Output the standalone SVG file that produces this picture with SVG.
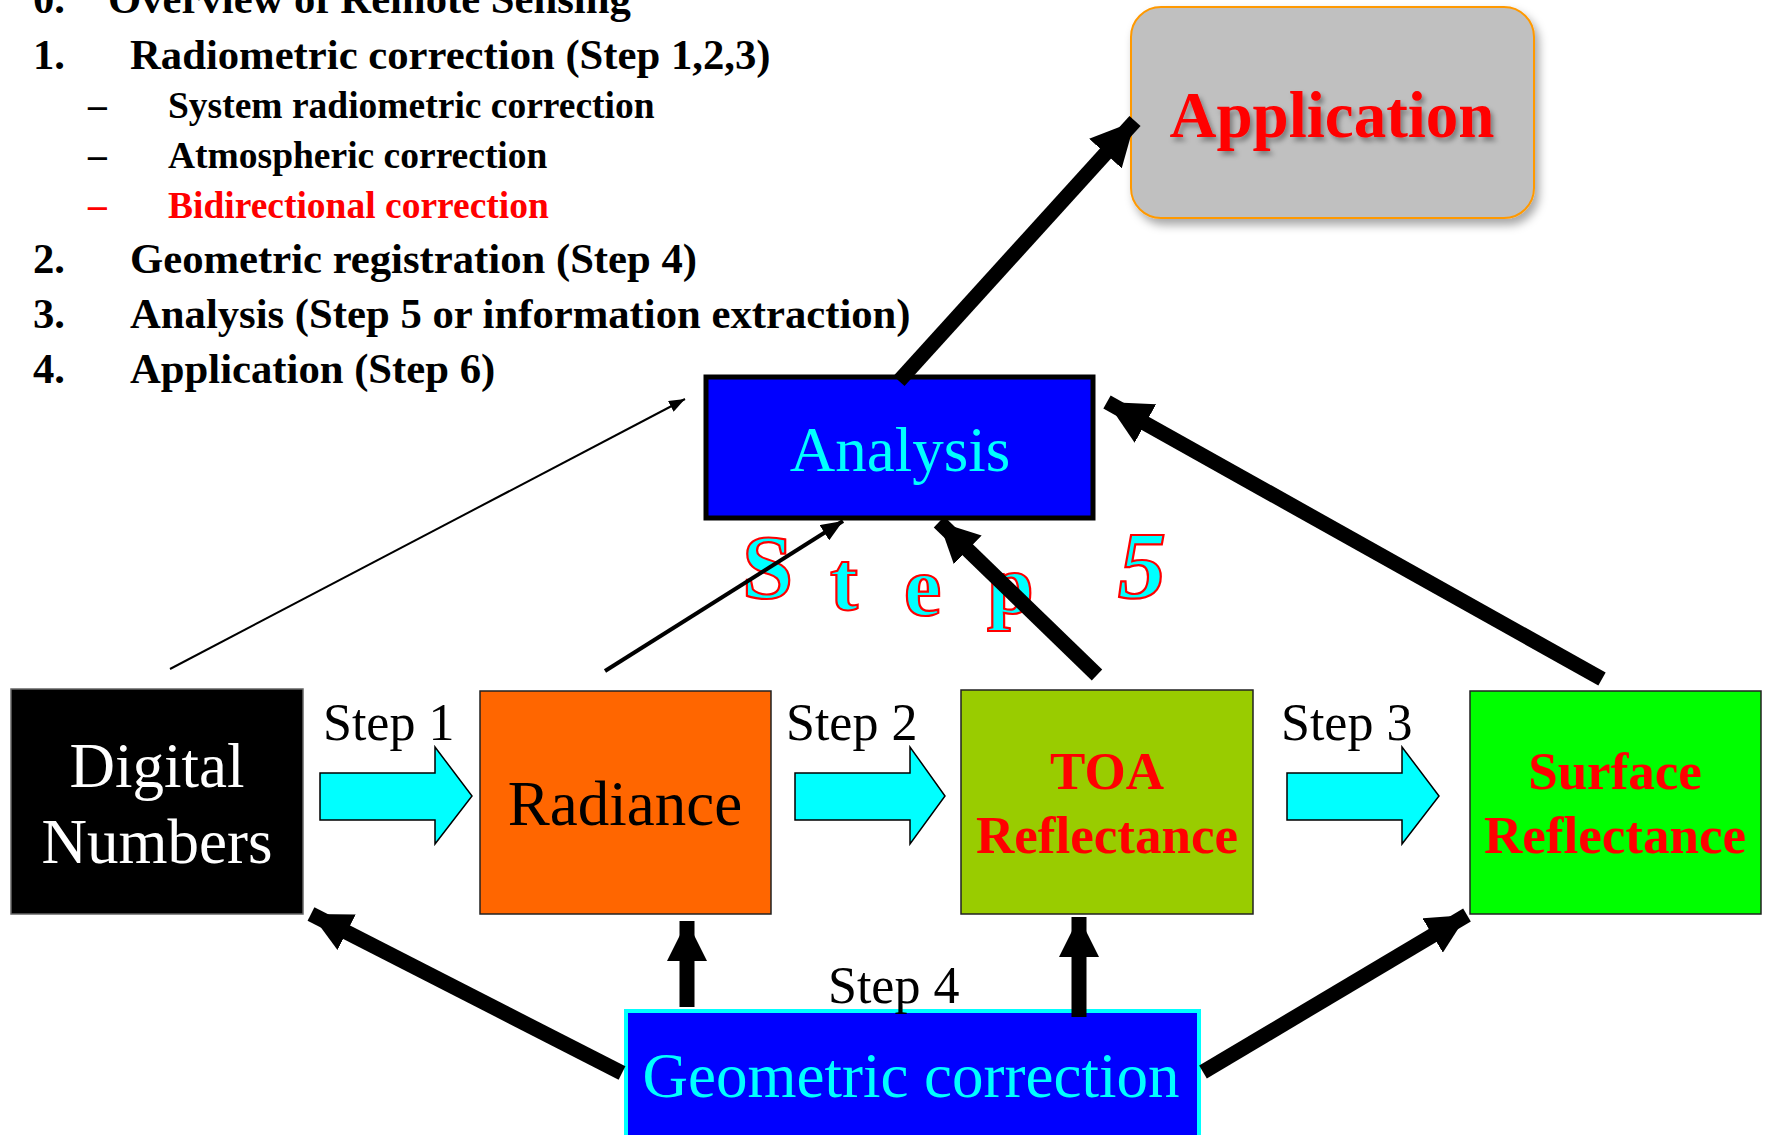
<svg xmlns="http://www.w3.org/2000/svg" width="1769" height="1135" viewBox="0 0 1769 1135">
  <style>
    .serif { font-family: "Liberation Serif", "Times New Roman", serif; }
    .list { font-family: "Liberation Serif", serif; font-weight: bold; font-size: 42.7px; fill: #000; }
    .sub { font-family: "Liberation Serif", serif; font-weight: bold; font-size: 37.5px; fill: #000; }
    .red { fill: #ff0000; }
    .step { font-family: "Liberation Serif", serif; font-size: 52px; fill: #000; }
    .big { font-family: "Liberation Serif", serif; font-size: 63px; }
    .bold-red { font-family: "Liberation Serif", serif; font-size: 53px; font-weight: bold; fill: #ff0000; }
    .s5 { font-family: "Liberation Serif", serif; font-weight: bold; font-size: 84px; fill: #00ffff; stroke: #ff0000; stroke-width: 2.2; }
    .blockarrow { fill: #00ffff; stroke: #000; stroke-width: 1.5; }
    .thick { stroke: #000; stroke-width: 15; fill: none; }
  </style>
  <defs>
    <filter id="boxShadow" x="-10%" y="-10%" width="125%" height="130%">
      <feDropShadow dx="4" dy="6" stdDeviation="5" flood-color="#000" flood-opacity="0.35"/>
    </filter>
    <filter id="textShadow" x="-5%" y="-20%" width="115%" height="150%">
      <feDropShadow dx="3" dy="4" stdDeviation="2.5" flood-color="#000" flood-opacity="0.35"/>
    </filter>
    <marker id="headBig" markerUnits="userSpaceOnUse" viewBox="0 0 44 44" refX="44" refY="22" markerWidth="44" markerHeight="44" orient="auto">
      <path d="M0,0 L44,22 L0,44 Z" fill="#000"/>
    </marker>
    <marker id="headMid" markerUnits="userSpaceOnUse" viewBox="0 0 40 40" refX="40" refY="20" markerWidth="40" markerHeight="40" orient="auto">
      <path d="M0,0 L40,20 L0,40 Z" fill="#000"/>
    </marker>
    <marker id="headSmall" markerUnits="userSpaceOnUse" viewBox="0 0 22 18" refX="22" refY="9" markerWidth="22" markerHeight="18" orient="auto">
      <path d="M0,0 L22,9 L0,18 Z" fill="#000"/>
    </marker>
    <marker id="headThin" markerUnits="userSpaceOnUse" viewBox="0 0 16 12" refX="16" refY="6" markerWidth="16" markerHeight="12" orient="auto">
      <path d="M0,0 L16,6 L0,12 Z" fill="#000"/>
    </marker>
  </defs>

  <rect width="1769" height="1135" fill="#fff"/>

  <!-- outline list -->
  <g id="outline">
    <text class="list" x="33" y="13">0.</text>
    <text class="list" x="108" y="13">Overview of Remote Sensing</text>
    <text class="list" x="33" y="69">1.</text>
    <text class="list" x="130" y="69">Radiometric correction (Step 1,2,3)</text>
    <text class="sub" x="88" y="118">–</text>
    <text class="sub" x="168" y="118">System radiometric correction</text>
    <text class="sub" x="88" y="168">–</text>
    <text class="sub" x="168" y="168">Atmospheric correction</text>
    <text class="sub red" x="88" y="218">–</text>
    <text class="sub red" x="168" y="218">Bidirectional correction</text>
    <text class="list" x="33" y="273">2.</text>
    <text class="list" x="130" y="273">Geometric registration (Step 4)</text>
    <text class="list" x="33" y="328">3.</text>
    <text class="list" x="130" y="328">Analysis (Step 5 or information extraction)</text>
    <text class="list" x="33" y="383">4.</text>
    <text class="list" x="130" y="383">Application (Step 6)</text>
  </g>

  <!-- Step 5 word art -->
  <g id="step5-label">
    <text class="s5" x="742" y="598" style="font-size:92px">S</text>
    <text class="s5" x="830" y="610">t</text>
    <text class="s5" x="904" y="615">e</text>
    <text class="s5" x="987" y="613">p</text>
    <text class="s5" x="1118" y="598" style="font-size:96px;font-style:italic">5</text>
  </g>

  <!-- nodes -->
  <g id="application" filter="url(#boxShadow)">
    <rect x="1131" y="7" width="403" height="211" rx="30" ry="30" fill="#c0c0c0" stroke="#ff9900" stroke-width="2"/>
  </g>
  <g id="application-label" filter="url(#textShadow)">
    <text class="serif" x="1332" y="137" text-anchor="middle" font-size="65" font-weight="bold" fill="#ff0000">Application</text>
  </g>

  <g id="analysis">
    <rect x="706" y="377" width="387" height="141" fill="#0000ff" stroke="#000" stroke-width="5"/>
    <text class="big" x="900" y="471" text-anchor="middle" fill="#00ffff" font-size="64">Analysis</text>
  </g>

  <g id="digital-numbers">
    <rect x="11" y="689" width="292" height="225" fill="#000" stroke="#666" stroke-width="1.5"/>
    <text class="big" x="157" y="787" text-anchor="middle" fill="#fff" font-size="62">Digital</text>
    <text class="big" x="157" y="863" text-anchor="middle" fill="#fff" font-size="62">Numbers</text>
  </g>

  <g id="radiance">
    <rect x="480" y="691" width="291" height="223" fill="#ff6600" stroke="#222" stroke-width="1.5"/>
    <text class="big" x="625" y="825" text-anchor="middle" fill="#000" font-size="62">Radiance</text>
  </g>

  <g id="toa-reflectance">
    <rect x="961" y="690" width="292" height="224" fill="#99cc00" stroke="#222" stroke-width="1.5"/>
    <text class="bold-red" x="1107" y="789" text-anchor="middle">TOA</text>
    <text class="bold-red" x="1107" y="853" text-anchor="middle">Reflectance</text>
  </g>

  <g id="surface-reflectance">
    <rect x="1470" y="691" width="291" height="223" fill="#00ff00" stroke="#222" stroke-width="1.5"/>
    <text class="bold-red" x="1615" y="789" text-anchor="middle">Surface</text>
    <text class="bold-red" x="1615" y="853" text-anchor="middle">Reflectance</text>
  </g>

  <g id="geometric-correction">
    <rect x="626" y="1011" width="573" height="140" fill="#0000ff" stroke="#00ffff" stroke-width="4"/>
    <text class="big" x="911" y="1097" text-anchor="middle" fill="#00ffff" font-size="64.5">Geometric correction</text>
  </g>

  <!-- step labels -->
  <g id="step-labels">
    <text class="step" x="323" y="740">Step 1</text>
    <text class="step" x="786" y="740">Step 2</text>
    <text class="step" x="1281" y="740">Step 3</text>
    <text class="step" x="828" y="1003">Step 4</text>
  </g>

  <g id="connectors">
    <!-- block arrows between processing levels -->
    <polygon class="blockarrow" points="320,773 435,773 435,747 472,796 435,844 435,820 320,820"/>
    <polygon class="blockarrow" points="795,773 910,773 910,747 945,796 910,844 910,820 795,820"/>
    <polygon class="blockarrow" points="1287,773 1402,773 1402,747 1439,796 1402,844 1402,820 1287,820"/>

    <!-- into Analysis -->
    <line x1="170" y1="669" x2="685" y2="399" stroke="#000" stroke-width="2" marker-end="url(#headThin)"/>
    <line x1="605" y1="671" x2="843" y2="521" stroke="#000" stroke-width="4" marker-end="url(#headSmall)"/>
    <line class="thick" x1="1097" y1="675" x2="939" y2="522" stroke-width="13" marker-end="url(#headMid)"/>
    <line class="thick" x1="1602" y1="679" x2="1107" y2="402" marker-end="url(#headBig)"/>

    <!-- Analysis to Application -->
    <line class="thick" x1="899" y1="381" x2="1135" y2="121" marker-end="url(#headBig)"/>

    <!-- from Geometric correction -->
    <line class="thick" x1="622" y1="1073" x2="311" y2="914" marker-end="url(#headMid)"/>
    <line class="thick" x1="687" y1="1007" x2="687" y2="921" stroke-width="14" marker-end="url(#headMid)"/>
    <line class="thick" x1="1079" y1="1017" x2="1079" y2="917" stroke-width="14" marker-end="url(#headMid)"/>
    <line class="thick" x1="1203" y1="1072" x2="1467" y2="915" marker-end="url(#headMid)"/>
  </g>
</svg>
